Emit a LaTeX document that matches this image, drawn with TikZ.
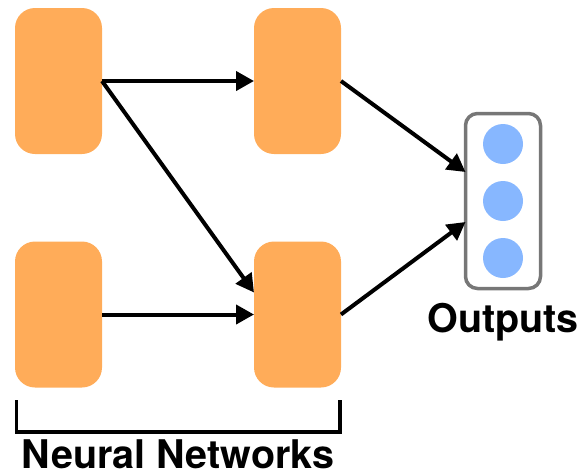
\documentclass[tikz,border=0pt]{standalone}
\usepackage{fontspec}
\setmainfont{TeX Gyre Heros}
\usetikzlibrary{arrows.meta}
\definecolor{nnorange}{HTML}{FFAC59}
\definecolor{outblue}{HTML}{87B7FF}
\definecolor{boxgray}{HTML}{777777}
\begin{document}
\begin{tikzpicture}[x=1pt,y=-1pt,
  nnbox/.style={fill=nnorange, rounded corners=20pt, minimum width=87pt, minimum height=146pt, inner sep=0pt, outer sep=0pt},
  outframe/.style={draw=boxgray, line width=3.5pt, rounded corners=12pt, minimum width=75pt, minimum height=175pt, inner sep=0pt, outer sep=0pt},
  neuron/.style={circle, fill=outblue, minimum size=40pt, inner sep=0pt},
  conn/.style={line width=4pt, -{Triangle[length=18pt,width=19pt]}},
  lbl/.style={font=\fontsize{39.5}{44}\selectfont\bfseries, anchor=base, inner sep=0pt}
]
\useasboundingbox (0,0) rectangle (579,475);
\node[nnbox] (b1) at (58.5,81) {};
\node[nnbox] (b2) at (297.5,81) {};
\node[nnbox] (b3) at (58.5,314.5) {};
\node[nnbox] (b4) at (297.5,314.5) {};
\node[outframe] (out) at (503,201) {};
\node[neuron] (o1) at (503,144) {};
\node[neuron] (o2) at (503,201) {};
\node[neuron] (o3) at (503,258) {};
\draw[conn] (b1.east) -- (b2.west);
\draw[conn] (b1.east) -- ([yshift=22pt]b4.west);
\draw[conn] (b3.east) -- (b4.west);
\draw[conn] (b2.east) -- ([yshift=29pt]out.west);
\draw[conn] (b4.east) -- ([yshift=-21pt]out.west);
\coordinate (brA) at (16.5,400);
\coordinate (brB) at (16.5,432);
\coordinate (brC) at (340,432);
\coordinate (brD) at (340,400);
\draw[line width=3.5pt] (brA) -- (brB) -- (brC) -- (brD);
\node[lbl] (outlbl) at (503,332) {Outputs};
\node[lbl] (nnlbl) at (178,468) {Neural Networks};
\end{tikzpicture}
\end{document}
